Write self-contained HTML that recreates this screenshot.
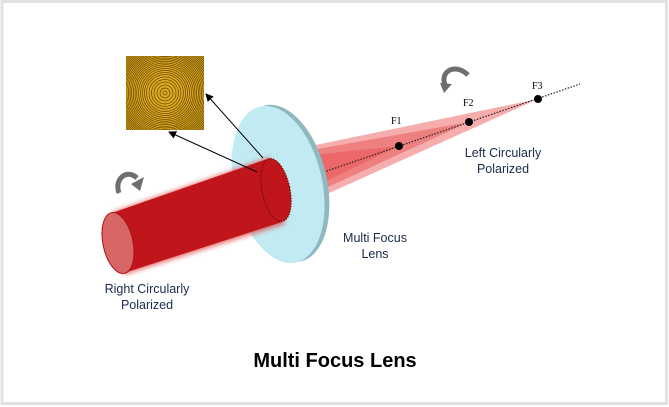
<!DOCTYPE html>
<html><head><meta charset="utf-8"><style>
html,body{margin:0;padding:0;background:#fff;}
svg{display:block;}
</style></head><body>
<svg width="669" height="407" viewBox="0 0 669 407" xmlns="http://www.w3.org/2000/svg" font-family="Liberation Sans, sans-serif">
<defs>
<marker id="ah" markerWidth="8" markerHeight="8" refX="7" refY="4" orient="auto" markerUnits="userSpaceOnUse">
<path d="M0,0 L8,4 L0,8 Z" fill="#000"/></marker>
<filter id="blur" x="-20%" y="-20%" width="140%" height="140%"><feGaussianBlur stdDeviation="2.5"/></filter>
<clipPath id="zp"><rect x="126" y="56" width="78" height="74"/></clipPath>
</defs>
<rect x="0" y="0" width="669" height="407" fill="#fff"/>
<rect x="2" y="1.5" width="664.5" height="402" fill="none" stroke="#e2e2e2" stroke-width="3"/>

<!-- zone plate -->
<rect x="126" y="56" width="78" height="74" fill="#dcaa22"/>
<g fill="none" stroke="#6b4a00" stroke-width="0.75" clip-path="url(#zp)">
<circle cx="165" cy="93" r="2"/><circle cx="165" cy="93" r="5"/><circle cx="165" cy="93" r="8"/>
<circle cx="165" cy="93" r="11"/><circle cx="165" cy="93" r="13.5"/><circle cx="165" cy="93" r="16"/>
<circle cx="165" cy="93" r="18.5"/><circle cx="165" cy="93" r="20.5"/><circle cx="165" cy="93" r="22.5"/>
<circle cx="165" cy="93" r="24.5"/><circle cx="165" cy="93" r="26.5"/><circle cx="165" cy="93" r="28.3"/>
<circle cx="165" cy="93" r="30"/><circle cx="165" cy="93" r="31.7"/><circle cx="165" cy="93" r="33.4"/>
<circle cx="165" cy="93" r="35"/><circle cx="165" cy="93" r="36.6"/><circle cx="165" cy="93" r="38.2"/>
<circle cx="165" cy="93" r="39.8"/><circle cx="165" cy="93" r="41.3"/><circle cx="165" cy="93" r="42.8"/>
<circle cx="165" cy="93" r="44.3"/><circle cx="165" cy="93" r="45.8"/><circle cx="165" cy="93" r="47.3"/>
<circle cx="165" cy="93" r="48.8"/><circle cx="165" cy="93" r="50.3"/><circle cx="165" cy="93" r="51.8"/>
<circle cx="165" cy="93" r="53.3"/><circle cx="165" cy="93" r="54.8"/>
</g>

<!-- beams -->
<g fill="#e84a4a" fill-opacity="0.45">
<polygon points="311,146 538,99 318,198"/>
<polygon points="312,150 469,122 317,192"/>
<polygon points="313,155 399,146 316,186"/>
</g>
<line x1="318" y1="174" x2="580" y2="84" stroke="#222" stroke-width="1.2" stroke-dasharray="1.5,1.5"/>

<!-- lens -->
<g transform="rotate(-13 280 184)">
<ellipse cx="283" cy="184" rx="44" ry="80" fill="#8fb8bf"/>
<ellipse cx="278" cy="184" rx="44" ry="80" fill="#c2eaf2"/>
</g>

<!-- cylinder -->
<g filter="url(#blur)" opacity="0.7">
<polygon points="112,212 270,157 285,224 124,275" fill="#e04040"/>
</g>
<polygon points="112,213 270,158 282,222 124,273" fill="#c0151a"/>
<ellipse cx="276" cy="190" rx="14" ry="32" transform="rotate(-12 276 190)" fill="#c0151a" stroke="#500" stroke-width="1" stroke-dasharray="1.2,1.5"/>
<ellipse cx="118" cy="243" rx="15" ry="31" transform="rotate(-12 118 243)" fill="#d86666" stroke="#b01010" stroke-width="1"/>

<!-- pointer arrows -->
<line x1="263" y1="158" x2="206" y2="94" stroke="#000" stroke-width="1" marker-end="url(#ah)"/>
<line x1="257" y1="172" x2="169" y2="132" stroke="#000" stroke-width="1" marker-end="url(#ah)"/>

<!-- focus dots -->
<circle cx="399" cy="146" r="4" fill="#000"/>
<circle cx="469" cy="122" r="4" fill="#000"/>
<circle cx="538" cy="99" r="4" fill="#000"/>
<text x="391" y="124" font-family="Liberation Serif, serif" font-size="10" fill="#000">F1</text>
<text x="463" y="106" font-family="Liberation Serif, serif" font-size="10" fill="#000">F2</text>
<text x="532" y="89" font-family="Liberation Serif, serif" font-size="10" fill="#000">F3</text>

<!-- rotation arrows -->
<g fill="none" stroke="#6e6e6e" stroke-width="5">
<path d="M119,193 C114,180 126,168 137,178"/>
<path d="M446,87 C438,72 455,62 468,75"/>
</g>
<polygon points="131,184 144,177 140,191" fill="#6e6e6e"/>
<polygon points="440,83 452,84 444,93" fill="#6e6e6e"/>

<!-- labels -->
<g font-size="12.5" fill="#1a2a4a" text-anchor="middle">
<text x="147" y="293">Right Circularly</text>
<text x="147" y="309">Polarized</text>
<text x="375" y="242">Multi Focus</text>
<text x="375" y="258">Lens</text>
<text x="503" y="157">Left Circularly</text>
<text x="503" y="173">Polarized</text>
</g>
<text x="335" y="367" font-size="20" font-weight="bold" text-anchor="middle" fill="#000">Multi Focus Lens</text>
</svg>
</body></html>
